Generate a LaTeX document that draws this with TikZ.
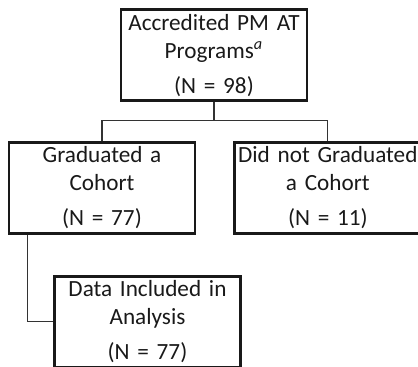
\documentclass[tikz,border=0pt]{standalone}
\usepackage{fontspec}
\setmainfont{Carlito}
\usepackage{tikz}
\usetikzlibrary{positioning}

\begin{document}
\begin{tikzpicture}[
  font=\fontsize{11.6}{14}\selectfont,
  node distance=20pt,
  box/.style={draw=black!90, line width=1.4pt, align=center, text=black!90, minimum width=93pt, minimum height=45.5pt, inner sep=0.5pt, text width=92pt},
  link/.style={draw=black!80, line width=0.6pt}
]
\useasboundingbox (0pt,0pt) rectangle (209pt,-183pt);
\node[box] (grad) at (51pt,-94pt) {Graduated a\\Cohort\\[3.5pt](N = 77)};
\node[box, right=18.5pt of grad] (nograd) {Did not Graduated\\a Cohort\\[3.5pt](N = 11)};
\node[box, above=19.5pt of grad, xshift=56pt] (prog) {Accredited PM AT\\Programs\textsuperscript{\itshape a}\\[3.5pt](N = 98)};
\node[box, below=of grad, xshift=22.75pt] (incl) {Data Included in\\Analysis\\[3.5pt](N = 77)};

% branch lines
\path (prog.south) ++(0,-9.25pt) coordinate (split);
\path (grad.south west) ++(10pt,0) coordinate (down);
\draw[link] (prog.south) -- (split);
\draw[link] (grad.north) |- (split) -| (nograd.north);
\draw[link] (down) |- (incl.west);
\end{tikzpicture}
\end{document}
